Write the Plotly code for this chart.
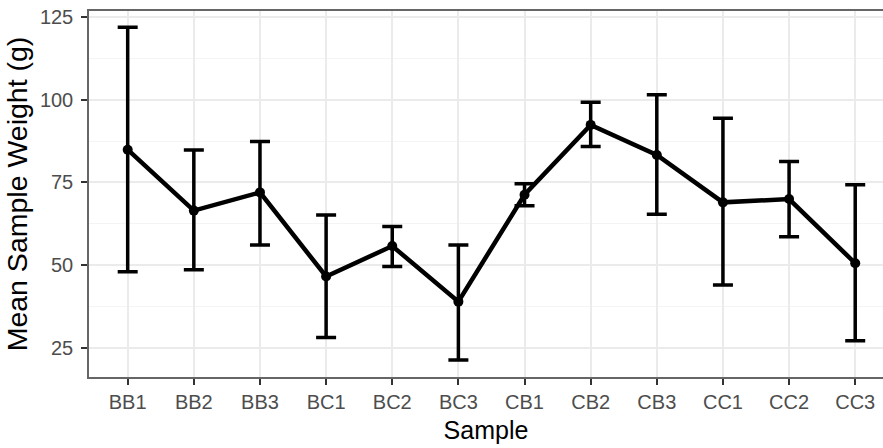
import plotly.graph_objects as go

samples = ["BB1", "BB2", "BB3", "BC1", "BC2", "BC3", "CB1", "CB2", "CB3", "CC1", "CC2", "CC3"]
mean_weight = [84.9, 66.5, 72.0, 46.6, 55.8, 39.0, 71.3, 92.4, 83.3, 69.0, 70.0, 50.6]
upper_bound = [121.9, 84.8, 87.4, 65.2, 61.7, 56.1, 74.6, 99.2, 101.5, 94.4, 81.3, 74.3]
lower_bound = [48.0, 48.6, 56.1, 28.2, 49.6, 21.4, 68.0, 85.9, 65.4, 44.0, 58.6, 27.2]
y_ticks = [25, 50, 75, 100, 125]

err_plus = [u - m for u, m in zip(upper_bound, mean_weight)]
err_minus = [m - l for m, l in zip(mean_weight, lower_bound)]

fig = go.Figure()
fig.add_trace(go.Scatter(
    x=samples, y=mean_weight, mode="lines+markers",
    line=dict(color="black", width=4.5),
    marker=dict(color="black", size=10),
    error_y=dict(type="data", symmetric=False, array=err_plus, arrayminus=err_minus,
                 color="black", thickness=3.5, width=10),
    showlegend=False,
))

font_family = "Liberation Sans, Arial, sans-serif"
fig.update_layout(
    width=883, height=448,
    margin=dict(l=89, r=0, t=11, b=71),
    paper_bgcolor="white", plot_bgcolor="white",
    font=dict(family=font_family),
    xaxis=dict(
        type="category", range=[-0.585, 11.42],
        showgrid=True, gridcolor="#EBEBEB", gridwidth=1.5,
        showline=True, linecolor="#666666", linewidth=1.5, mirror=True,
        ticks="outside", ticklen=6, tickwidth=2, tickcolor="#333333",
        tickfont=dict(size=20, color="#4D4D4D", family=font_family),
        title=dict(text="Sample", font=dict(size=25, color="black", family=font_family), standoff=10),
        zeroline=False,
    ),
    yaxis=dict(
        range=[16.24, 126.8],
        tickvals=y_ticks,
        showgrid=True, gridcolor="#EBEBEB", gridwidth=1.5,
        minor=dict(dtick=12.5, tick0=0, showgrid=True, gridcolor="#F4F4F4", gridwidth=1),
        showline=True, linecolor="#666666", linewidth=1.5, mirror=False,
        ticks="outside", ticklen=6, tickwidth=2, tickcolor="#333333",
        ticklabelstandoff=4,
        tickfont=dict(size=20, color="#4D4D4D", family=font_family),
        title=dict(text="Mean Sample Weight (g)", font=dict(size=28.5, color="black", family=font_family), standoff=4),
        zeroline=False,
    ),
)

fig.write_html("out.html")
